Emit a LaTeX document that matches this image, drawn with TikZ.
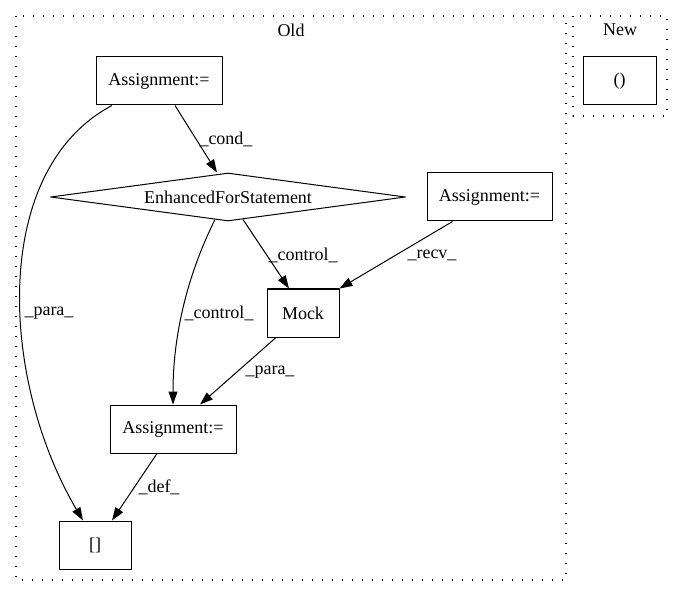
\documentclass[tikz,border=0pt]{standalone}
\usepackage{fontspec}
\setmainfont{Liberation Serif}
\usepackage{tikz}
\usetikzlibrary{arrows.meta}
\usetikzlibrary{shapes.geometric}
\tikzset{box/.style={draw,line width=1pt,minimum height=48pt,inner sep=0pt,font=\fontsize{18}{18}\selectfont}}
\tikzset{dia/.style={draw,diamond,aspect=7.4,line width=1pt,minimum width=355pt,minimum height=48pt,inner sep=0pt,font=\fontsize{18}{18}\selectfont}}
\tikzset{lab/.style={inner sep=0pt,font=\fontsize{18}{18}\selectfont}}
\tikzset{arr/.style={-{Triangle[length=13pt,width=9pt]},line width=1pt}}
\tikzset{clu/.style={draw,line width=1.3pt,dash pattern=on 1.3pt off 8.7pt}}

\begin{document}
\begin{tikzpicture}[line join=round,x=1pt,y=-1pt]
            \useasboundingbox (0,0) rectangle (683,596);
            % clusters
            \draw[clu] (16,16) rectangle (566,580);
            \draw[clu] (573,16) rectangle (667,116);
            \node[lab] (old) at (291,30) {Old};
            \node[lab] (new) at (620,30) {New};
            % nodes
            \node[box,minimum width=126pt] (a1) at (159,81) {Assignment:=};
            \node[dia] (efs) at (228,197) {EnhancedForStatement};
            \node[box,minimum width=125pt] (a2) at (489.5,197) {Assignment:=};
            \node[box,minimum width=72pt] (mock) at (303,313) {Mock};
            \node[box,minimum width=126pt] (a3) at (173,429) {Assignment:=};
            \node[box,minimum width=72pt] (idx) at (95,545) {[]};
            \node[box,minimum width=73pt] (par) at (619.5,81) {()};
            % edges
            \draw[arr] ([xshift=16pt]a1.south) -- ([xshift=-11pt]efs.north);
            \draw[arr] ([xshift=-47pt]a1.south) .. controls (-10,170) and (0,380) .. ([xshift=-12pt]idx.north);
            \draw[arr] ([xshift=-13pt,yshift=2pt]efs.south) .. controls (185,280) and (173,340) .. (a3.north);
            \draw[arr] ([xshift=15pt,yshift=2pt]efs.south) -- ([xshift=-14pt]mock.north);
            \draw[arr] ([xshift=-37pt]a2.south) -- (mock.north east);
            \draw[arr] ([xshift=-27pt]mock.south) -- ([xshift=27pt]a3.north);
            \draw[arr] ([xshift=-16pt]a3.south) -- ([xshift=17pt]idx.north);
            % edge labels
            \node[lab] (lcond) at (226,139) {\_cond\_};
            \node[lab] (lctl1) at (303,255) {\_control\_};
            \node[lab] (lrecv) at (432,255) {\_recv\_};
            \node[lab] (lpar1) at (49,313) {\_para\_};
            \node[lab] (lctl2) at (219,313) {\_control\_};
            \node[lab] (lpar2) at (270,372) {\_para\_};
            \node[lab] (ldef) at (159,487) {\_def\_};
          \end{tikzpicture}
\end{document}
